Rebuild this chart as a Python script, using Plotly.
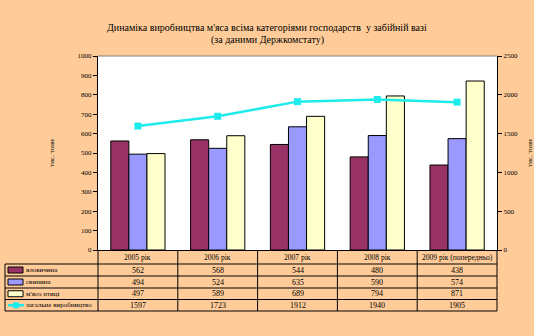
import plotly.graph_objects as go

categories = ["2005 рік", "2006 рік", "2007 рік", "2008 рік", "2009 рік (попередньо)"]
series_names = ["яловичина", "свинина", "м'ясо птиці", "загальне виробництво"]
beef = [562, 568, 544, 480, 438]
pork = [494, 524, 635, 590, 574]
poultry = [497, 589, 689, 794, 871]
total = [1597, 1723, 1912, 1940, 1905]

left_ticks = list(range(0, 1001, 100))
right_ticks = list(range(0, 2501, 500))

title_lines = ["Динаміка виробництва м'яса всіма категоріями господарств  у забійній вазі",
               "(за даними Держкомстату)"]

W, H = 534, 336
L, R, T, B = 98, 497, 56, 250
PW, PH = R - L, B - T

def px(x):
    return (x - L) / PW

def py(y):
    return (B - y) / PH

colors = ["#993366", "#9999FF", "#FFFFCC", "#1EEBEB"]
FONT = "Liberation Serif"

fig = go.Figure()
for name, vals, col in zip(series_names[:3], [beef, pork, poultry], colors[:3]):
    fig.add_trace(go.Bar(x=categories, y=vals, name=name, marker=dict(color=col, line=dict(color="black", width=1)),
                         showlegend=False))
fig.add_trace(go.Scatter(x=categories, y=total, name=series_names[3], yaxis="y2", mode="lines+markers",
                         line=dict(color=colors[3], width=2.5),
                         marker=dict(symbol="square", size=7, color=colors[3]), showlegend=False))

fig.update_layout(
    width=W, height=H,
    margin=dict(l=L, r=W - R, t=T, b=H - B),
    paper_bgcolor="#FFCC99",
    plot_bgcolor="white",
    barmode="group",
    bargap=0.32,
    bargroupgap=0,
    font=dict(family=FONT, size=8, color="black"),
    xaxis=dict(showticklabels=False, ticks="", showline=True, linecolor="black", linewidth=1,
               showgrid=False, zeroline=False, mirror=False, automargin=False),
    yaxis=dict(range=[0, 1000], tickvals=left_ticks, ticks="outside", ticklen=4, tickcolor="black",
               showline=True, linecolor="black", linewidth=1, showgrid=False, zeroline=False,
               automargin=False, tickfont=dict(family=FONT, size=7),
               title=dict(text="тис. тонн", font=dict(family=FONT, size=7), standoff=22)),
    yaxis2=dict(range=[0, 2500], tickvals=right_ticks, overlaying="y", side="right", ticks="outside",
                ticklen=4, tickcolor="black", showline=True, linecolor="black", linewidth=1,
                showgrid=False, zeroline=False, automargin=False, tickfont=dict(family=FONT, size=7),
                title=dict(text="тис. тонн", font=dict(family=FONT, size=7), standoff=19)),
)

shapes = []
annotations = []
shapes.append(dict(type="line", xref="paper", yref="paper", x0=0, x1=1, y0=1, y1=1,
                   line=dict(color="#808080", width=1)))

for txt, yy in zip(title_lines, [27, 40]):
    annotations.append(dict(text=txt, xref="paper", yref="paper", x=px(267), y=py(yy),
                            showarrow=False, xanchor="center", yanchor="middle",
                            font=dict(family=FONT, size=10, color="black")))

col_edges = [L + i * PW / len(categories) for i in range(len(categories) + 1)]
row_edges = [264, 276, 288, 299.5, 311]
left_x = 5
for yv in row_edges:
    shapes.append(dict(type="line", xref="paper", yref="paper", x0=px(left_x), x1=px(R),
                       y0=py(yv), y1=py(yv), line=dict(color="black", width=1)))
for xv in col_edges:
    shapes.append(dict(type="line", xref="paper", yref="paper", x0=px(xv), x1=px(xv),
                       y0=py(B), y1=py(row_edges[-1]), line=dict(color="black", width=1)))
shapes.append(dict(type="line", xref="paper", yref="paper", x0=px(left_x), x1=px(left_x),
                   y0=py(row_edges[0]), y1=py(row_edges[-1]), line=dict(color="black", width=1)))

for i, c in enumerate(categories):
    cx = (col_edges[i] + col_edges[i + 1]) / 2
    annotations.append(dict(text=c, xref="paper", yref="paper", x=px(cx), y=py((B + row_edges[0]) / 2),
                            showarrow=False, xanchor="center", yanchor="middle",
                            font=dict(family=FONT, size=7.5)))

all_series = [beef, pork, poultry, total]
for r, (name, vals, col) in enumerate(zip(series_names, all_series, colors)):
    y0, y1 = row_edges[r], row_edges[r + 1]
    ym = (y0 + y1) / 2
    if r < 3:
        shapes.append(dict(type="rect", xref="paper", yref="paper", x0=px(8), x1=px(23),
                           y0=py(ym + 3), y1=py(ym - 3), fillcolor=col, line=dict(color="black", width=1)))
    else:
        shapes.append(dict(type="line", xref="paper", yref="paper", x0=px(8), x1=px(24),
                           y0=py(ym), y1=py(ym), line=dict(color=col, width=2.5)))
        shapes.append(dict(type="rect", xref="paper", yref="paper", x0=px(13), x1=px(19),
                           y0=py(ym + 3), y1=py(ym - 3), fillcolor=col, line=dict(color=col, width=0)))
    annotations.append(dict(text=name, xref="paper", yref="paper", x=px(24), y=py(ym),
                            showarrow=False, xanchor="left", yanchor="middle",
                            font=dict(family=FONT, size=7)))
    for i, v in enumerate(vals):
        cx = (col_edges[i] + col_edges[i + 1]) / 2
        annotations.append(dict(text=str(v), xref="paper", yref="paper", x=px(cx), y=py(ym),
                                showarrow=False, xanchor="center", yanchor="middle",
                                font=dict(family=FONT, size=8)))

fig.update_layout(shapes=shapes, annotations=annotations)
fig.write_html("out.html")
